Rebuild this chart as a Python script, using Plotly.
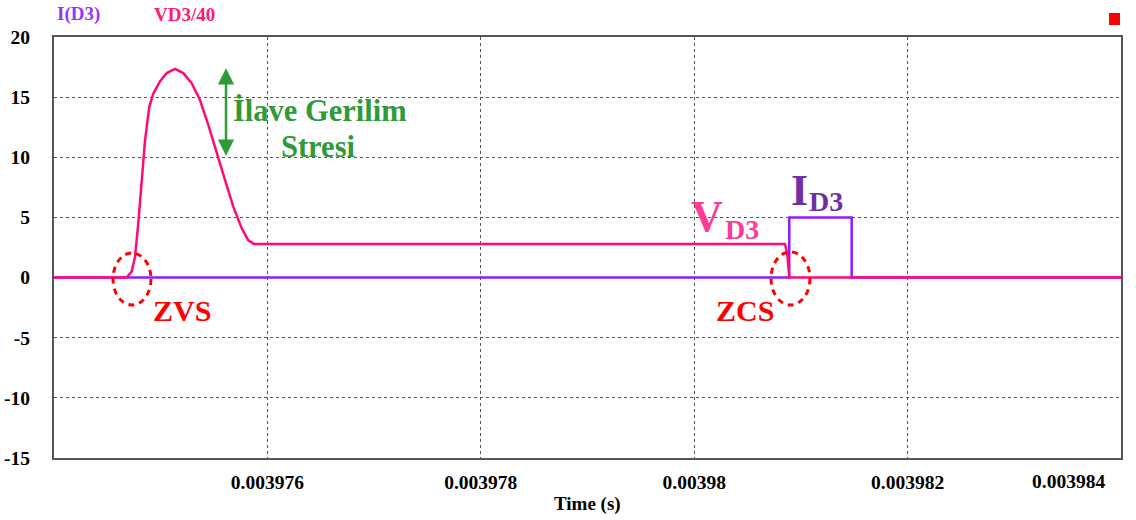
import plotly.graph_objects as go

# Diode D3 voltage (scaled by 1/40) and current during one switching transition
time_v = [0.003974000, 0.0039746810, 0.0039747280, 0.0039747590, 0.0039747900,
          0.0039748220, 0.0039748530, 0.0039748930, 0.0039749310, 0.0039749930,
          0.0039750560, 0.0039751340, 0.0039752120, 0.0039752910, 0.0039753680,
          0.0039754460, 0.0039755250, 0.0039756030, 0.0039756800, 0.0039757590,
          0.0039758210, 0.0039758740, 0.0039808510, 0.0039808600, 0.0039808730,
          0.0039808910, 0.003984000]
vd3_40 = [0.0, 0.0, 0.5, 1.7, 4.5,
          7.8, 11.4, 14.2, 15.3, 16.3,
          17.0, 17.35, 17.0, 16.15, 14.76,
          12.7, 10.3, 8.1, 5.9, 4.1,
          3.1, 2.8, 2.8, 2.3, 1.9,
          0.0, 0.0]

time_i = [0.003974000, 0.0039808910, 0.0039808910, 0.0039814760, 0.0039814760, 0.003984000]
i_d3 = [0.0, 0.0, 5.0, 5.0, 0.0, 0.0]

x_ticks = [0.003976, 0.003978, 0.003980, 0.003982]
x_tick_text = ["0.003976", "0.003978", "0.00398", "0.003982"]
x_last_tick = "0.003984"
y_ticks = [-15, -10, -5, 0, 5, 10, 15, 20]
y_tick_text = ["-15", "-10", "-5", "0", "5", "10", "15", "20"]

SERIF = "Liberation Serif"
PINK = "#FF0A78"
VIOLET = "#8E1CFF"
GREEN = "#2F9A3A"
RED = "#FF0000"
GRID = "#555555"

fig = go.Figure()
fig.add_trace(go.Scatter(x=time_i, y=i_d3, mode="lines", name="I(D3)",
                         line=dict(color=VIOLET, width=2.5), showlegend=False))
fig.add_trace(go.Scatter(x=time_v, y=vd3_40, mode="lines", name="VD3/40",
                         line=dict(color=PINK, width=2.5), showlegend=False))

tick_font = dict(family=SERIF, size=19.5, color="black", weight="bold")

fig.update_xaxes(range=[0.003974, 0.003984], tickvals=x_ticks, ticktext=x_tick_text,
                 showgrid=True, gridcolor=GRID, gridwidth=1, griddash="3px,3px",
                 showline=True, mirror=True, linecolor=GRID, linewidth=2,
                 zeroline=False, ticks="", tickfont=tick_font, ticklabelstandoff=6,
                 automargin=False)
fig.update_yaxes(range=[-15, 20], tickvals=y_ticks, ticktext=y_tick_text,
                 showgrid=True, gridcolor=GRID, gridwidth=1, griddash="3px,3px",
                 showline=True, mirror=True, linecolor=GRID, linewidth=2,
                 zeroline=False, ticks="inside", ticklen=3, tickcolor=GRID,
                 tickfont=tick_font, ticklabelstandoff=18, automargin=False)

annotations = [
    # series labels above the plot
    dict(text="I(D3)", x=0.001, y=1.0546, xref="paper", yref="paper",
         xanchor="left", yanchor="middle", showarrow=False,
         font=dict(family=SERIF, size=19, color="#9933FF", weight="bold")),
    dict(text="VD3/40", x=0.0918, y=1.0546, xref="paper", yref="paper",
         xanchor="left", yanchor="middle", showarrow=False,
         font=dict(family=SERIF, size=19, color="#FF1A75", weight="bold")),
    # x axis title and last tick label
    dict(text="Time (s)", x=0.5, y=-0.109, xref="paper", yref="paper",
         xanchor="center", yanchor="middle", showarrow=False,
         font=dict(family=SERIF, size=19, color="black", weight="bold")),
    dict(text=x_last_tick, x=0.9869, y=-0.057, xref="paper", yref="paper",
         xanchor="right", yanchor="middle", showarrow=False, font=tick_font),
    # extra voltage stress arrow and label
    dict(x=0.003975612, y=17.4, ax=0.003975612, ay=10.0, xref="x", yref="y",
         axref="x", ayref="y", text="", showarrow=True, arrowside="end+start",
         arrowhead=2, arrowsize=1.3, arrowwidth=2.5, arrowcolor=GREEN),
    dict(text="İlave Gerilim", x=0.003976493, y=13.84, xref="x", yref="y",
         xanchor="center", yanchor="middle", showarrow=False,
         font=dict(family=SERIF, size=30.5, color=GREEN, weight="bold")),
    dict(text="Stresi", x=0.003976482, y=10.86, xref="x", yref="y",
         xanchor="center", yanchor="middle", showarrow=False,
         font=dict(family=SERIF, size=30.5, color=GREEN, weight="bold")),
    # soft-switching markers
    dict(text="ZVS", x=0.003975195, y=-2.7, xref="x", yref="y",
         xanchor="center", yanchor="middle", showarrow=False,
         font=dict(family=SERIF, size=30, color=RED, weight="bold")),
    dict(text="ZCS", x=0.003980476, y=-2.7, xref="x", yref="y",
         xanchor="center", yanchor="middle", showarrow=False,
         font=dict(family=SERIF, size=30, color=RED, weight="bold")),
    # waveform names
    dict(text="V", x=0.0039801200, y=5.04, xref="x", yref="y",
         xanchor="center", yanchor="middle", showarrow=False,
         font=dict(family=SERIF, size=44, color="#FF3B96", weight="bold")),
    dict(text="D3", x=0.0039804450, y=4.0, xref="x", yref="y",
         xanchor="center", yanchor="middle", showarrow=False,
         font=dict(family=SERIF, size=28, color="#FF3B96", weight="bold")),
    dict(text="I", x=0.0039809870, y=7.28, xref="x", yref="y",
         xanchor="center", yanchor="middle", showarrow=False,
         font=dict(family=SERIF, size=44, color="#7030A0", weight="bold")),
    dict(text="D3", x=0.0039812310, y=6.33, xref="x", yref="y",
         xanchor="center", yanchor="middle", showarrow=False,
         font=dict(family=SERIF, size=28, color="#7030A0", weight="bold")),
]

shapes = [
    dict(type="circle", xref="x", yref="y", x0=0.003974553, x1=0.003974909,
         y0=-2.28, y1=2.04, line=dict(color=RED, width=3, dash="6px,5px")),
    dict(type="circle", xref="x", yref="y", x0=0.003980720, x1=0.003981085,
         y0=-2.28, y1=2.13, line=dict(color=RED, width=3, dash="6px,5px")),
    dict(type="rect", xref="paper", yref="paper", x0=0.9888, x1=0.9991,
         y0=1.0285, y1=1.057, line=dict(width=0), fillcolor=RED),
]

fig.update_layout(width=1136, height=520,
                  margin=dict(l=54, r=15, t=37, b=62),
                  paper_bgcolor="white", plot_bgcolor="white",
                  annotations=annotations, shapes=shapes, showlegend=False)

fig.write_html("out.html")
